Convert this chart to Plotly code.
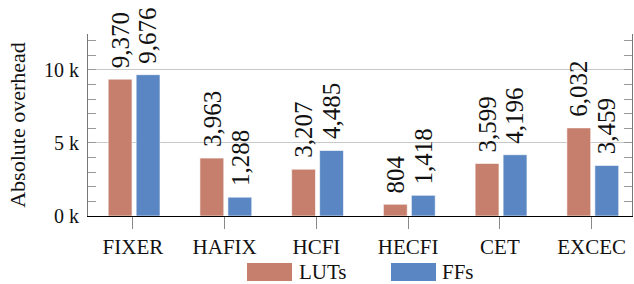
import plotly.graph_objects as go

categories = ["FIXER", "HAFIX", "HCFI", "HECFI", "CET", "EXCEC"]
luts = [9370, 3963, 3207, 804, 3599, 6032]
ffs = [9676, 1288, 4485, 1418, 4196, 3459]
series_names = ["LUTs", "FFs"]
y_tickvals = [0, 5000, 10000]
y_ticktext = ["0 k", "5 k", "10 k"]

C_LUT = "#c67e6d"
C_FF = "#5a87c4"
FONT = "Liberation Serif"
BAR_W = 0.26

fig = go.Figure()
for name, vals, col, off in [(series_names[0], luts, C_LUT, -0.27), (series_names[1], ffs, C_FF, 0.035)]:
    xs = list(range(len(categories)))
    fig.add_trace(go.Bar(
        x=xs, y=vals, name=name,
        marker=dict(color=col, line=dict(color="rgba(255,255,255,0.6)", width=1)),
        width=BAR_W, offset=off, showlegend=False,
    ))
    # value labels, rotated, above each bar
    for xi, v in zip(xs, vals):
        fig.add_annotation(
            x=xi + off + BAR_W / 2, y=v, xref="x", yref="y",
            text=f"{v:,}", textangle=-90, showarrow=False,
            xanchor="center", yanchor="bottom", yshift=9,
            font=dict(family=FONT, size=25, color="#111"),
        )

fig.update_layout(
    width=634, height=284,
    margin=dict(l=88, r=2, t=34, b=68),
    plot_bgcolor="white", paper_bgcolor="white",
    font=dict(family=FONT, size=21, color="#111"),
    barmode="overlay",
    xaxis=dict(
        range=[-0.49, 5.44], tickvals=list(range(len(categories))), ticktext=categories,
        showline=True, linecolor="black", linewidth=1,
        ticks="outside", ticklen=12, tickcolor="#888", tickwidth=1,
        showgrid=False, zeroline=False, tickfont=dict(size=21),
    ),
    yaxis=dict(
        range=[0, 12460], tickvals=y_tickvals, ticktext=y_ticktext,
        showline=True, linecolor="#777", linewidth=1, mirror="ticks",
        ticks="inside", ticklen=8, tickcolor="#999",
        showgrid=True, gridcolor="#c8c8c8", gridwidth=1, zeroline=False,
        minor=dict(dtick=1000, ticks="inside", ticklen=8, tickcolor="#999", showgrid=False),
        title=dict(text="Absolute overhead", font=dict(size=22, family=FONT), standoff=12),
        tickfont=dict(size=20, family=FONT), ticklabelstandoff=4,
    ),
)

# custom legend with wide swatches
def px_x(p):
    return (p - 88) / 544
def px_y(p):
    return (216 - p) / 182.3

for name, col, x0, x1, tx in [(series_names[0], C_LUT, 247, 292, 297), (series_names[1], C_FF, 391, 436, 440)]:
    fig.add_shape(type="rect", xref="paper", yref="paper",
                  x0=px_x(x0), x1=px_x(x1), y0=px_y(281), y1=px_y(263),
                  fillcolor=col, line=dict(width=0))
    fig.add_annotation(xref="paper", yref="paper", x=px_x(tx), y=px_y(272),
                       text=name, showarrow=False, xanchor="left", yanchor="middle",
                       font=dict(size=21))

fig.write_html("out.html", config={"displayModeBar": False},
               post_script="document.body.style.margin='0';document.body.style.overflow='hidden';")
